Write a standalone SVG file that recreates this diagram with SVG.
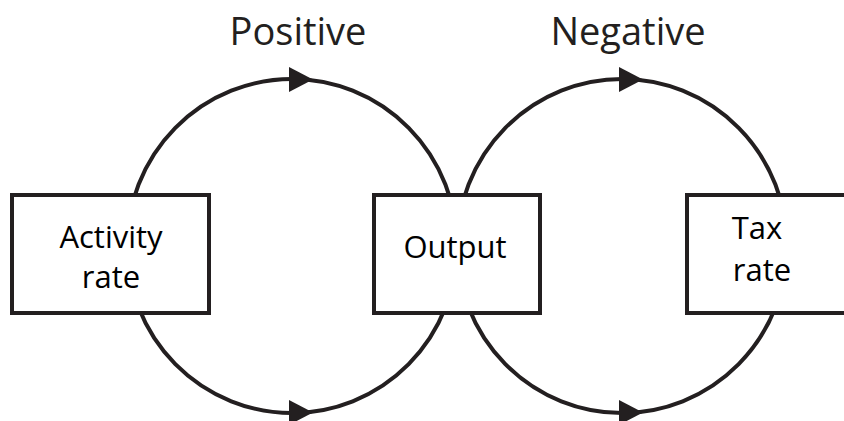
<svg xmlns="http://www.w3.org/2000/svg" width="844" height="421" viewBox="0 0 844 421">
  <style>
    .loop { fill: none; stroke: #231f20; stroke-width: 4; }
    .arrow { fill: #231f20; }
    .box { fill: #ffffff; stroke: #231f20; stroke-width: 4; }
    .lbl { font-family: "Open Sans", "Noto Sans", sans-serif; font-size: 31px; fill: #000000; text-anchor: middle; }
    .title { font-family: "Open Sans", "Noto Sans", sans-serif; font-size: 38px; fill: #231f20; text-anchor: middle; }
  </style>
  <rect width="844" height="421" fill="#ffffff"/>
  <g id="connectors">
    <ellipse class="loop" cx="292" cy="246" rx="165" ry="167"/>
    <ellipse class="loop" cx="622" cy="246" rx="165" ry="167"/>
    <polygon class="arrow" points="289,67 313,79.5 289,92"/>
    <polygon class="arrow" points="289,400 313,412.5 289,425"/>
    <polygon class="arrow" points="619,67 643,79.5 619,92"/>
    <polygon class="arrow" points="619,400 643,412.5 619,425"/>
  </g>
  <g id="label-positive">
    <text class="title" x="298" y="45">Positive</text>
  </g>
  <g id="label-negative">
    <text class="title" x="628" y="45">Negative</text>
  </g>
  <g id="node-activity">
    <rect class="box" x="12" y="195" width="197" height="118"/>
    <text class="lbl" x="111" y="248">Activity</text>
    <text class="lbl" x="111" y="288">rate</text>
  </g>
  <g id="node-output">
    <rect class="box" x="374" y="195" width="166" height="118"/>
    <text class="lbl" x="455" y="258">Output</text>
  </g>
  <g id="node-tax">
    <rect class="box" x="687" y="195" width="170" height="118"/>
    <text class="lbl" x="757" y="239">Tax</text>
    <text class="lbl" x="762" y="281">rate</text>
  </g>
</svg>
